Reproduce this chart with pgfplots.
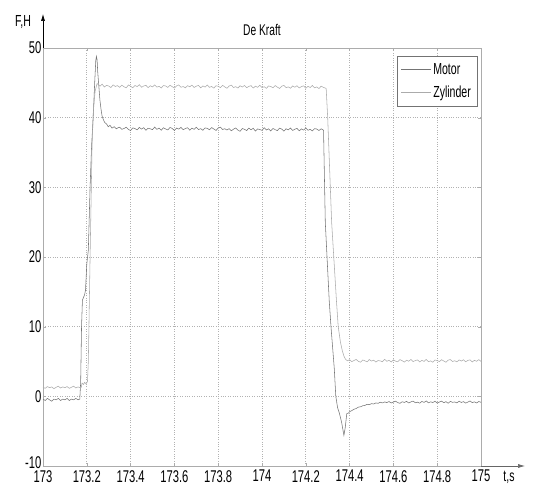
\documentclass[border=0pt]{standalone}
\usepackage{fontspec}
\setmainfont{Liberation Sans}[FakeStretch=0.66]
\usepackage{pgfplots}
\pgfplotsset{compat=1.18}
\usetikzlibrary{arrows.meta}
\definecolor{motorc}{HTML}{747474}
\definecolor{zylc}{HTML}{ABABAB}
\begin{document}
\begin{tikzpicture}
\useasboundingbox (-43pt,-20pt) rectangle (496pt,466pt);
\begin{axis}[
  at={(0pt,0pt)}, anchor=south west,
  scale only axis, width=438pt, height=418pt,
  xmin=173, xmax=175, ymin=-10, ymax=50,
  xtick={173,173.2,173.4,173.6,173.8,174,174.2,174.4,174.6,174.8,175},
  xticklabels={173,173.2,173.4,173.6,173.8,174,174.2,174.4,174.6,174.8,175},
  ytick={-10,0,10,20,30,40,50},
  yticklabels={\raisebox{7pt}{-10},0,10,20,30,40,50},
  tick label style={font=\fontsize{17}{17}\selectfont},
  yticklabel style={inner xsep=1.5pt},
  xticklabel style={inner ysep=4pt},
  grid=major, grid style={dotted, gray!60, line width=0.6pt},
  axis line style={gray!65, line width=0.6pt},
  tick style={gray!65}, major tick length=3pt,
  title={De Kraft},
  title style={at={(0.5,1)}, anchor=center, yshift=12pt, font=\fontsize{15.5}{15.5}\selectfont},
  legend style={at={(rel axis cs:0.991,0.981)}, anchor=north east, draw=gray!90!black,
    font=\fontsize{16}{17}\selectfont, row sep=6pt, inner xsep=4pt, inner ysep=5pt},
  legend cell align=left,
  legend image code/.code={\draw[#1] (0pt,0pt) -- (30pt,0pt);},
]
\addplot[motorc, line width=0.55pt] coordinates {
(173.000,-0.4) (173.010,-0.6) (173.020,-0.3) (173.030,-0.5) (173.040,-0.7) (173.050,-0.4)
(173.060,-0.5) (173.070,-0.3) (173.080,-0.6) (173.090,-0.4) (173.100,-0.5) (173.110,-0.3)
(173.120,-0.6) (173.130,-0.4) (173.140,-0.5) (173.150,-0.3) (173.160,-0.5) (173.168,-0.4)
(173.172,2) (173.176,10) (173.180,13.8) (173.185,14.2) (173.190,14.6) (173.194,15.2)
(173.200,19) (173.207,21) (173.215,30) (173.222,36) (173.229,40) (173.236,45) (173.241,48.2)
(173.244,48.8) (173.247,48.3) (173.250,46.5) (173.254,44.9) (173.260,42.5) (173.265,41.2)
(173.270,40.2) (173.276,39.7) (173.282,39.3) (173.290,39.1) (173.298,38.7) (173.306,38.9)
(173.315,38.5) (173.325,38.7) (173.335,38.4) (173.345,38.6)
(173.35,38.62) (173.36,38.32) (173.37,38.45) (173.38,38.62) (173.39,38.31) (173.40,38.15)
(173.41,38.54) (173.42,38.43) (173.43,38.25) (173.44,38.60) (173.45,38.36) (173.46,38.57)
(173.47,38.18) (173.48,38.48) (173.49,38.40) (173.50,38.28) (173.51,38.65) (173.52,38.33)
(173.53,38.50) (173.54,38.20) (173.55,38.55) (173.56,38.38) (173.57,38.24) (173.58,38.59)
(173.59,38.46) (173.60,38.16) (173.61,38.51) (173.62,38.35) (173.63,38.61) (173.64,38.27)
(173.65,38.44) (173.66,38.56) (173.67,38.21) (173.68,38.49) (173.69,38.32) (173.70,38.63)
(173.71,38.29) (173.72,38.42) (173.73,38.19) (173.74,38.53) (173.75,38.47) (173.76,38.26)
(173.77,38.58) (173.78,38.37) (173.79,38.17) (173.80,38.50) (173.81,38.64) (173.82,38.30)
(173.83,38.41) (173.84,38.23) (173.85,38.42) (173.86,38.12) (173.87,38.35) (173.88,38.52)
(173.89,38.21) (173.90,38.05) (173.91,38.44) (173.92,38.33) (173.93,38.15) (173.94,38.50)
(173.95,38.26) (173.96,38.47) (173.97,38.08) (173.98,38.38) (173.99,38.30) (174.00,38.18)
(174.01,38.55) (174.02,38.23) (174.03,38.40) (174.04,38.10) (174.05,38.45) (174.06,38.28)
(174.07,38.14) (174.08,38.49) (174.09,38.36) (174.10,38.06) (174.11,38.41) (174.12,38.25)
(174.13,38.51) (174.14,38.17) (174.15,38.34) (174.16,38.46) (174.17,38.11) (174.18,38.39)
(174.19,38.22) (174.20,38.53) (174.21,38.19) (174.22,38.32) (174.23,38.09) (174.24,38.43)
(174.25,38.37) (174.26,38.16) (174.27,38.40) (174.281,38.2)
(174.289,25) (174.307,13.7) (174.315,10) (174.330,4) (174.337,0) (174.345,-1.6)
(174.354,-2.5) (174.364,-3.8) (174.374,-5.6) (174.380,-4.5) (174.387,-2.5)
(174.395,-2.4) (174.40,-2.2) (174.41,-2.05) (174.42,-1.85) (174.43,-1.75) (174.44,-1.55)
(174.45,-1.5) (174.46,-1.35) (174.47,-1.3) (174.48,-1.15) (174.49,-1.2) (174.50,-1.05)
(174.51,-1.1) (174.52,-0.95) (174.53,-1.0) (174.54,-0.85) (174.55,-0.95) (174.56,-0.8)
(174.57,-0.9) (174.58,-0.75) (174.59,-0.95) (174.60,-0.82) (174.61,-0.70) (174.62,-0.90)
(174.63,-1.0) (174.64,-0.78) (174.65,-0.88) (174.66,-0.72) (174.67,-0.95) (174.68,-0.80)
(174.69,-0.68) (174.70,-0.92) (174.71,-0.84) (174.72,-0.98) (174.73,-0.74) (174.74,-0.87)
(174.75,-0.66) (174.76,-0.93) (174.77,-0.79) (174.78,-0.89) (174.79,-0.71) (174.80,-0.96)
(174.81,-0.82) (174.82,-0.69) (174.83,-0.91) (174.84,-0.77) (174.85,-0.99) (174.86,-0.73)
(174.87,-0.86) (174.88,-0.81) (174.89,-0.94) (174.90,-0.70) (174.91,-0.88) (174.92,-0.76)
(174.93,-0.97) (174.94,-0.83) (174.95,-0.67) (174.96,-0.90) (174.97,-0.80) (174.98,-0.95)
(174.99,-0.74) (175.00,-0.86)
};
\addlegendentry{Motor}
\addplot[zylc, line width=0.55pt] coordinates {
(173.00,1.3) (173.01,1.15) (173.02,1.4) (173.03,1.25) (173.04,1.35) (173.05,1.1) (173.06,1.3)
(173.07,1.45) (173.08,1.2) (173.09,1.35) (173.10,1.25) (173.11,1.4) (173.12,1.15) (173.13,1.3)
(173.14,1.45) (173.15,1.2) (173.16,1.35) (173.17,1.25) (173.175,1.3) (173.178,1.9) (173.185,1.7)
(173.19,2.0) (173.196,1.8) (173.203,2.1) (173.207,5) (173.211,12.4) (173.215,20) (173.219,27)
(173.224,36) (173.230,41) (173.238,43.8) (173.247,44.9)
(173.255,44.70) (173.26,44.52) (173.27,44.81) (173.28,44.40) (173.29,44.63) (173.30,44.55)
(173.31,44.32) (173.32,44.71) (173.33,44.48) (173.34,44.60) (173.35,44.35) (173.36,44.66)
(173.37,44.44) (173.38,44.28) (173.39,44.69) (173.40,44.51) (173.41,44.30) (173.42,44.62)
(173.43,44.46) (173.44,44.73) (173.45,44.37) (173.46,44.54) (173.47,44.65) (173.48,44.31)
(173.49,44.58) (173.50,44.42) (173.51,44.70) (173.52,44.38) (173.53,44.50) (173.54,44.27)
(173.55,44.61) (173.56,44.55) (173.57,44.34) (173.58,44.66) (173.59,44.45) (173.60,44.25)
(173.61,44.57) (173.62,44.70) (173.63,44.36) (173.64,44.47) (173.65,44.29) (173.66,44.60)
(173.67,44.43) (173.68,44.67) (173.69,44.33) (173.70,44.52) (173.71,44.63) (173.72,44.28)
(173.73,44.55) (173.74,44.39) (173.75,44.69) (173.76,44.35) (173.77,44.48) (173.78,44.24)
(173.79,44.58) (173.80,44.51) (173.81,44.32) (173.82,44.64) (173.83,44.42) (173.84,44.22)
(173.85,44.55) (173.86,44.67) (173.87,44.33) (173.88,44.45) (173.89,44.26) (173.90,44.58)
(173.91,44.40) (173.92,44.62) (173.93,44.30) (173.94,44.49) (173.95,44.60) (173.96,44.25)
(173.97,44.52) (173.98,44.36) (173.99,44.66) (174.00,44.31) (174.01,44.44) (174.02,44.21)
(174.03,44.55) (174.04,44.48) (174.05,44.29) (174.06,44.61) (174.07,44.39) (174.08,44.19)
(174.09,44.52) (174.10,44.63) (174.11,44.30) (174.12,44.42) (174.13,44.23) (174.14,44.55)
(174.15,44.37) (174.16,44.59) (174.17,44.27) (174.18,44.46) (174.19,44.57) (174.20,44.22)
(174.21,44.49) (174.22,44.33) (174.23,44.62) (174.24,44.28) (174.25,44.41) (174.26,44.18)
(174.27,44.52) (174.28,44.35) (174.293,44.2)
(174.300,40) (174.318,25) (174.34,13.7) (174.348,10) (174.358,7.8) (174.367,6.5)
(174.375,5.7) (174.382,5.3) (174.39,5.1)
(174.40,5.25) (174.41,4.98) (174.42,5.15) (174.43,5.30) (174.44,5.02) (174.45,4.90)
(174.46,5.22) (174.47,5.10) (174.48,4.95) (174.49,5.28) (174.50,5.06) (174.51,5.19)
(174.52,4.92) (174.53,5.14) (174.54,5.08) (174.55,4.97) (174.56,5.31) (174.57,5.03)
(174.58,5.17) (174.59,4.93) (174.60,5.24) (174.61,5.05) (174.62,4.96) (174.63,5.27)
(174.64,5.12) (174.65,4.91) (174.66,5.18) (174.67,5.04) (174.68,5.29) (174.69,4.99)
(174.70,5.13) (174.71,5.23) (174.72,4.94) (174.73,5.16) (174.74,5.01) (174.75,5.30)
(174.76,4.97) (174.77,5.09) (174.78,4.89) (174.79,5.21) (174.80,5.14) (174.81,4.98)
(174.82,5.26) (174.83,5.07) (174.84,4.90) (174.85,5.19) (174.86,5.28) (174.87,5.00)
(174.88,5.11) (174.89,4.95) (174.90,5.22) (174.91,5.06) (174.92,5.25) (174.93,4.96)
(174.94,5.15) (174.95,5.24) (174.96,4.93) (174.97,5.17) (174.98,5.03) (174.99,5.27)
(175.00,5.02)
};
\addlegendentry{Zylinder}
\end{axis}
\draw[black, line width=0.6pt, -{Latex[length=7pt,width=4pt]}] (0pt,418pt) -- (0pt,452pt);
\draw[gray!80!black, line width=0.6pt, -{Latex[length=7pt,width=4pt]}] (438pt,0pt) -- (482pt,0pt);
\node[font=\fontsize{16}{16}\selectfont] at (-20pt,444pt) {F,H};
\node[font=\fontsize{16}{16}\selectfont, inner sep=1pt] at (466pt,-11pt) {t,s};
\end{tikzpicture}
\end{document}
